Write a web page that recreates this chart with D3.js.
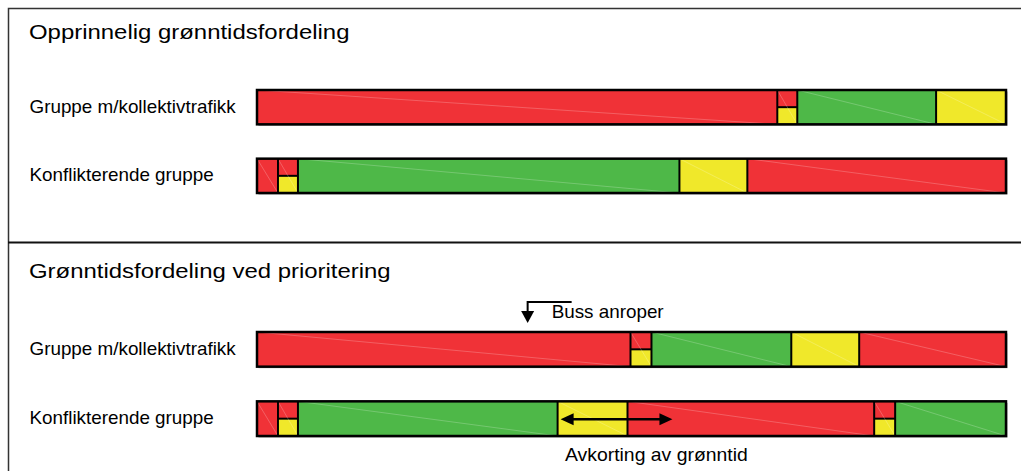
<!DOCTYPE html>
<html>
<head>
<meta charset="utf-8">
<script src="https://cdn.jsdelivr.net/npm/d3@7"></script>
<style>
  html, body { margin: 0; padding: 0; background: #fff; }
  svg { display: block; font-family: "Liberation Sans", Arial, sans-serif; }
</style>
</head>
<body>
<div id="chart"></div>
<script>
// Row labels and panel titles
const rowLabels = ["Gruppe m/kollektivtrafikk", "Konflikterende gruppe"];
const panelTitles = ["Opprinnelig grønntidsfordeling", "Grønntidsfordeling ved prioritering"];

// Signal states per row, [state, start, end] in seconds of the cycle (0-75)
// R = rødt, RY = rødt/gult, G = grønt, Y = gult
const origGruppe = [["R", 0, 52.1], ["RY", 52.1, 54.1], ["G", 54.1, 68], ["Y", 68, 75]];
const origKonflikt = [["R", 0, 2.1], ["RY", 2.1, 4.1], ["G", 4.1, 42.3], ["Y", 42.3, 49.1], ["R", 49.1, 75]];
const prioGruppe = [["R", 0, 37.4], ["RY", 37.4, 39.5], ["G", 39.5, 53.5], ["Y", 53.5, 60.3], ["R", 60.3, 75]];
const prioKonflikt = [["R", 0, 2.1], ["RY", 2.1, 4.1], ["G", 4.1, 30.1], ["Y", 30.1, 37.1],
                      ["R", 37.1, 61.8], ["RY", 61.8, 63.9], ["G", 63.9, 75]];

// Annotations
const bussAnroper = 27.1;            // time of bus call
const avkorting = [30.4, 41.6];      // shortening of green time (double arrow)

const W = 1021, H = 471;
const colors = { R: "#f03237", G: "#4eb848", Y: "#f0e82a" };

const svg = d3.select("#chart").append("svg")
  .attr("width", W).attr("height", H);

const x = d3.scaleLinear().domain([0, 75]).range([257, 1006]);

// text drawn slightly stretched horizontally, like the original figure
function label(tx, ty, size, str, sx) {
  return svg.append("text")
    .attr("transform", `translate(${tx},${ty}) scale(${sx || 1.065},1)`)
    .style("font-size", size + "px").attr("fill", "#000")
    .text(str);
}

// Frame
svg.append("path")
  .attr("d", `M${W},8.5 H8.5 V${H}`)
  .attr("fill", "none").attr("stroke", "#333").attr("stroke-width", 1.5);
svg.append("line")
  .attr("x1", 8).attr("x2", W).attr("y1", 242.5).attr("y2", 242.5)
  .attr("stroke", "#111").attr("stroke-width", 2);

const panels = [
  { title: panelTitles[0], titleY: 39, range: [90, 193], rows: [origGruppe, origKonflikt] },
  { title: panelTitles[1], titleY: 278, range: [332, 436], rows: [prioGruppe, prioKonflikt] }
];

panels.forEach(p => {
  const y = d3.scaleBand().domain(rowLabels).range(p.range).paddingInner(0.5).paddingOuter(0);
  const h = y.bandwidth();

  label(29, p.titleY, 21, p.title, 1.14);

  p.rows.forEach((segs, i) => {
    const top = y(rowLabels[i]);
    const g = svg.append("g");

    label(29.5, top + h / 2 + 5.5, 17.7, rowLabels[i]);

    // shadow
    g.append("rect")
      .attr("x", x(0) + 1.5).attr("y", top + 1.5)
      .attr("width", x(75) - x(0)).attr("height", h)
      .attr("fill", "#999");

    segs.forEach(([s, t0, t1]) => {
      const x0 = x(t0), x1 = x(t1);
      if (s === "RY") {
        g.append("rect").attr("x", x0).attr("y", top).attr("width", x1 - x0).attr("height", h / 2)
          .attr("fill", colors.R);
        g.append("rect").attr("x", x0).attr("y", top + h / 2).attr("width", x1 - x0).attr("height", h / 2)
          .attr("fill", colors.Y);
        g.append("line").attr("x1", x0).attr("x2", x1).attr("y1", top + h / 2).attr("y2", top + h / 2)
          .attr("stroke", "#000").attr("stroke-width", 2);
      } else {
        g.append("rect").attr("x", x0).attr("y", top).attr("width", x1 - x0).attr("height", h)
          .attr("fill", colors[s]);
      }
      // faint diagonal
      g.append("line").attr("x1", x0).attr("y1", top).attr("x2", x1).attr("y2", top + h)
        .attr("stroke", "#fff").attr("stroke-opacity", 0.28).attr("stroke-width", 0.8);
      // segment divider
      if (t0 > 0) {
        g.append("line").attr("x1", x0).attr("x2", x0).attr("y1", top).attr("y2", top + h)
          .attr("stroke", "#000").attr("stroke-width", 2);
      }
    });

    g.append("rect")
      .attr("x", x(0)).attr("y", top)
      .attr("width", x(75) - x(0)).attr("height", h)
      .attr("fill", "none").attr("stroke", "#000").attr("stroke-width", 2.5);
  });

  p.y = y;
});

// "Buss anroper" arrow
const yb = panels[1].y(rowLabels[0]);
const bx = x(bussAnroper);
svg.append("path")
  .attr("d", `M${bx + 44},302 H${bx} V312`)
  .attr("fill", "none").attr("stroke", "#000").attr("stroke-width", 2);
svg.append("path")
  .attr("d", `M${bx - 6.5},311 L${bx + 6.5},311 L${bx},${yb - 9} Z`)
  .attr("fill", "#000");
label(bx + 24, 318, 17.7, "Buss anroper");

// "Avkorting av grønntid" double arrow
const yk = panels[1].y(rowLabels[1]) + panels[1].y.bandwidth() / 2 + 0.5;
const a0 = x(avkorting[0]), a1 = x(avkorting[1]);
svg.append("line")
  .attr("x1", a0 + 10).attr("x2", a1 - 10).attr("y1", yk).attr("y2", yk)
  .attr("stroke", "#000").attr("stroke-width", 2.5);
svg.append("path")
  .attr("d", `M${a0},${yk} L${a0 + 13},${yk - 6} L${a0 + 13},${yk + 6} Z`).attr("fill", "#000");
svg.append("path")
  .attr("d", `M${a1},${yk} L${a1 - 13},${yk - 6} L${a1 - 13},${yk + 6} Z`).attr("fill", "#000");
label(565, 461, 18.2, "Avkorting av grønntid");
</script>
</body>
</html>
